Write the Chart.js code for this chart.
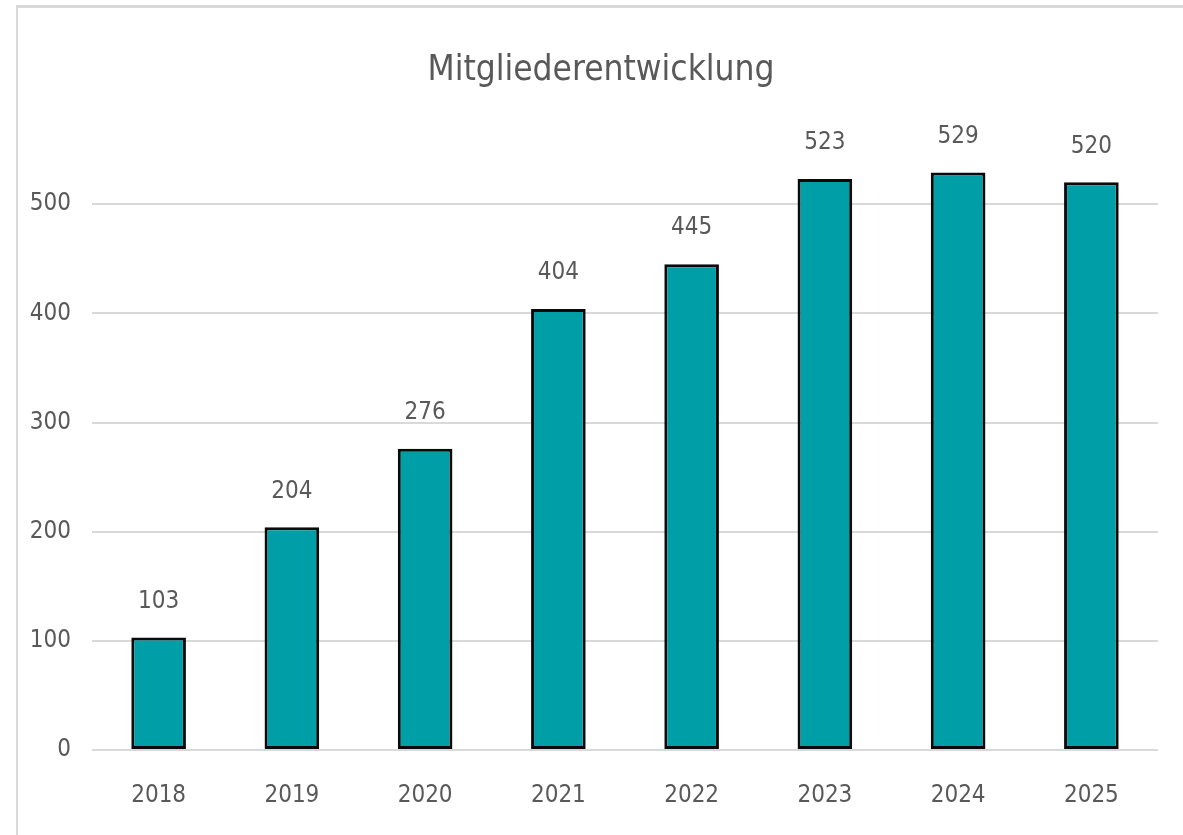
<!DOCTYPE html>
<html>
<head>
<meta charset="utf-8">
<script src="https://cdn.jsdelivr.net/npm/chart.js@4"></script>
<style>
  html, body { margin: 0; padding: 0; background: #fff; overflow: hidden; }
  #frame {
    position: absolute; left: 16px; top: 5px; width: 1300px; height: 900px;
    border-top: 3px solid #d9d9d9; border-left: 2px solid #d9d9d9;
  }
  #chart { position: absolute; left: 0; top: 0; }
</style>
</head>
<body>
<div id="frame"></div>
<canvas id="chart" width="1183" height="835"></canvas>
<script>
const years = ['2018', '2019', '2020', '2021', '2022', '2023', '2024', '2025'];
const members = [103, 204, 276, 404, 445, 523, 529, 520];
const yTicks = [0, 100, 200, 300, 400, 500];
const chartTitle = 'Mitgliederentwicklung';

const font = '"DejaVu Sans Condensed", "Liberation Sans Narrow", sans-serif';
const textColor = '#595959';
const numSize = 24;
const frameLeft = 17;

// value over each bar, plus the title centred over the frame (not the plot)
const valueLabels = {
  id: 'valueLabels',
  afterDatasetsDraw(chart) {
    const ctx = chart.ctx;
    const meta = chart.getDatasetMeta(0);
    ctx.save();
    ctx.fillStyle = textColor;
    ctx.textAlign = 'center';
    ctx.textBaseline = 'middle';
    ctx.font = numSize + 'px ' + font;
    meta.data.forEach((bar, i) => {
      ctx.fillText(String(members[i]), bar.x, bar.y - 36);
    });
    ctx.font = '35px ' + font;
    ctx.fillText(chartTitle, (chart.width + frameLeft) / 2 + 1, 71);
    ctx.restore();
  }
};

new Chart(document.getElementById('chart').getContext('2d'), {
  type: 'bar',
  data: {
    labels: years,
    datasets: [{
      data: members,
      backgroundColor: '#009FA8',
      borderColor: '#0a0a0a',
      borderWidth: 3,
      borderSkipped: false,
      barPercentage: 0.41,
      categoryPercentage: 1,
    }],
  },
  options: {
    responsive: false,
    animation: false,
    layout: { padding: { left: 0, right: 25, top: 95, bottom: 0 } },
    plugins: {
      legend: { display: false },
      tooltip: { enabled: false },
      title: { display: false },
    },
    scales: {
      x: {
        grid: { display: false, drawTicks: false },
        border: { display: false },
        ticks: { color: textColor, font: { family: font, size: numSize }, padding: 31 },
        afterFit(scale) { scale.height = 85; },
      },
      y: {
        min: 0,
        max: 600,
        afterBuildTicks(scale) {
          scale.ticks = yTicks.concat([600]).map(v => ({ value: v }));
        },
        grid: {
          drawTicks: false,
          lineWidth: 2,
          color: ctx => (ctx.tick && ctx.tick.value > 500 ? 'rgba(0,0,0,0)' : '#d9d9d9'),
        },
        border: { display: false },
        ticks: {
          color: textColor,
          font: { family: font, size: numSize },
          padding: 21,
          callback: v => (v > 500 ? '' : v),
        },
        afterFit(scale) { scale.width = 92; },
      },
    },
  },
  plugins: [valueLabels],
});
</script>
</body>
</html>
